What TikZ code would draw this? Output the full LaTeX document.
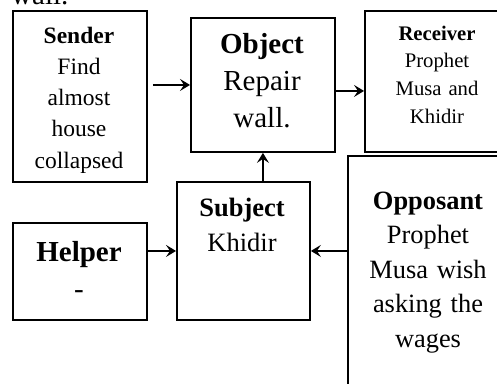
\documentclass[tikz,border=0pt]{standalone}
\usepackage{fontspec}
\setmainfont{Liberation Serif}
\usetikzlibrary{arrows.meta,calc}
\begin{document}
\begin{tikzpicture}[x=1pt,y=-1pt,
  box/.style={draw,line width=1.9pt,inner sep=0pt,anchor=north west},
  lbl/.style={anchor=base,inner sep=0pt,text width=170pt,align=center},
  arr/.style={line width=2pt,-{Stealth[length=10pt,width=12pt,inset=4pt]}}]
\useasboundingbox (0,0) rectangle (497,383);
\clip (0,0) rectangle (497,383);
% partially visible text from above
\node[anchor=base west,inner sep=0pt,font=\fontsize{29}{29}\selectfont] (topwall) at (11,4) {wall.};
% boxes
\node[box,minimum width=134pt,minimum height=171pt] (sender) at (12,10) {};
\node[box,minimum width=144pt,minimum height=134pt] (object) at (190,17) {};
\node[box,minimum width=200pt,minimum height=141pt] (receiver) at (364,10) {};
\node[box,minimum width=133pt,minimum height=138pt] (subject) at (176,181) {};
\node[box,minimum width=134pt,minimum height=97pt] (helper) at (12,222) {};
\node[box,minimum width=200pt,minimum height=300pt] (opposant) at (347,155) {};
% texts
\node[lbl,font=\fontsize{23.5}{31.3}\selectfont] (sendertxt) at (79,43) {\textbf{Sender}\\Find\\almost\\house\\collapsed};
\node[lbl,font=\fontsize{29}{37}\selectfont] (objecttxt) at (262,53) {\textbf{Object}\\Repair\\wall.};
\node[lbl,font=\fontsize{20.7}{27.6}\selectfont] (receivertxt) at (437,40.3) {\textbf{Receiver}\\Prophet\\Musa and\\Khidir};
\node[lbl,font=\fontsize{26.5}{35}\selectfont] (subjecttxt) at (242,216.7) {\textbf{Subject}\\Khidir};
\node[lbl,font=\fontsize{29}{36.6}\selectfont] (helpertxt) at (79,261.7) {\textbf{Helper}\\-};
\node[lbl,font=\fontsize{26.4}{34.5}\selectfont] (opposanttxt) at (428,209) {\textbf{Opposant}\\Prophet\\Musa wish\\asking the\\wages};
% connectors
\draw[arr,shorten <=5pt] (sender.east |- object.west) -- (object.west);
\draw[arr] ([yshift=-6pt]object.east) -- ([yshift=-6pt]object.east -| receiver.west);
\draw[arr] (subject.north -| object.south) -- (object.south);
\draw[arr] (helper.east |- subject.west) -- (subject.west);
\draw[arr] (subject.east -| opposant.west) -- (subject.east);
\end{tikzpicture}
\end{document}
